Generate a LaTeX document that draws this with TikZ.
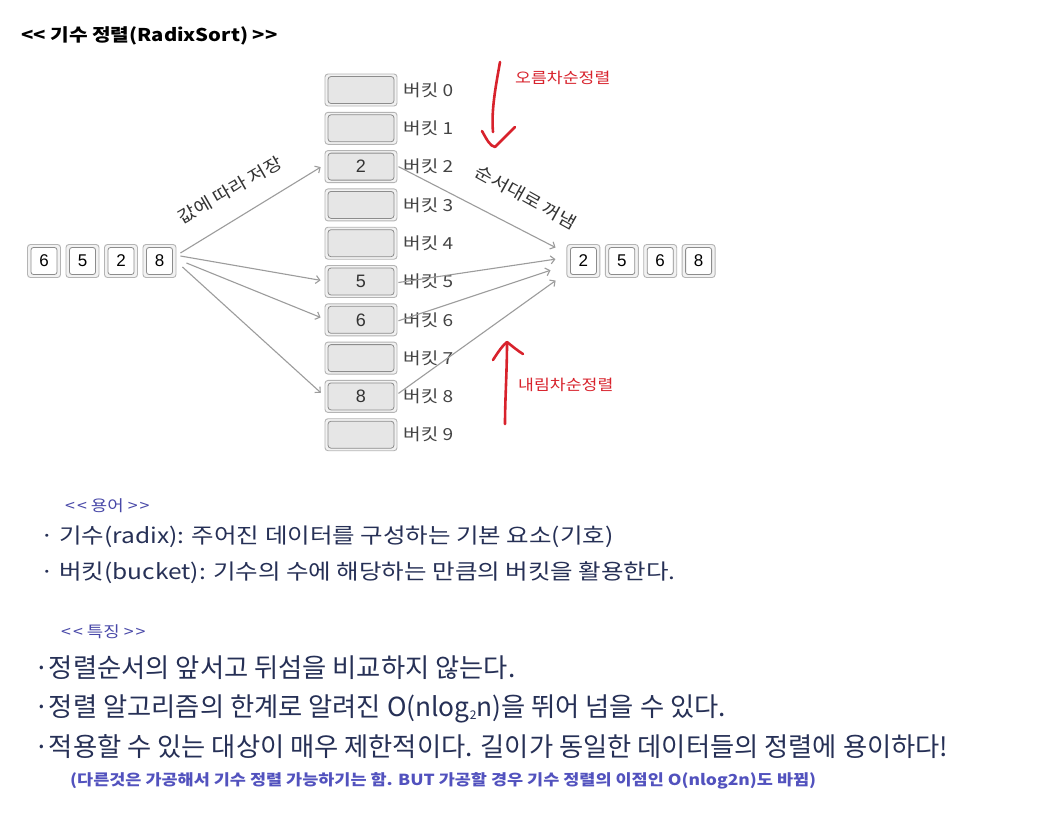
\documentclass[tikz,border=0pt]{standalone}
\usepackage{fontspec}
\setmainfont{Noto Sans CJK KR}
\newfontfamily\widef[FakeStretch=1.15]{Noto Sans CJK KR}
\newfontfamily\arialf{Liberation Sans}
\usetikzlibrary{calc,arrows.meta}
\definecolor{boxedge}{HTML}{B4B4B4}
\definecolor{boxout}{HTML}{F2F2F2}
\definecolor{inedge}{HTML}{8C8C8C}
\definecolor{bktfill}{HTML}{E6E6E6}
\definecolor{arr}{HTML}{9C9C9C}
\definecolor{redpen}{HTML}{D8222C}
\definecolor{navy}{HTML}{263056}
\definecolor{headblue}{HTML}{4848A8}
\definecolor{noteblue}{HTML}{5252BE}
\definecolor{lbl}{HTML}{444444}
\newcommand{\lt}{<\kern0pt<}
\newcommand{\gt}{>\kern0pt>}
\newcommand{\slt}{<\kern2pt<}
\newcommand{\sgt}{>\kern2pt>}
\tikzset{
  bktout/.style={draw=boxedge, fill=boxout, rounded corners=3pt, line width=0.9pt, minimum width=72pt, minimum height=32pt, inner sep=0pt},
  bktin/.style={draw=inedge, fill=bktfill, rounded corners=3pt, line width=0.8pt, minimum width=66pt, minimum height=27pt, inner sep=0pt, font=\arialf\fontsize{18}{18}\selectfont, text=black!80},
  cellout/.style={draw=boxedge, fill=boxout, rounded corners=3pt, line width=0.9pt, minimum width=33pt, minimum height=33pt, inner sep=0pt},
  cellin/.style={draw=inedge, fill=white, rounded corners=2.5pt, line width=0.8pt, minimum width=26pt, minimum height=27pt, inner sep=0pt, font=\arialf\fontsize{17}{17}\selectfont},
  bktlabel/.style={anchor=west, inner sep=0pt, text=lbl, font=\widef\fontsize{16.6}{16.6}\selectfont},
  conn/.style={draw=arr, line width=1.1pt, shorten >=1pt, -{Straight Barb[length=4pt,width=8pt]}},
  redline/.style={draw=redpen, line width=2.6pt, line cap=round, line join=round},
  redtext/.style={text=redpen, font=\widef\fontsize{15}{15}\selectfont, inner sep=0pt},
  rottext/.style={text=black!80, font=\widef\fontsize{17}{17}\selectfont, inner sep=0pt},
  head/.style={anchor=west, inner sep=0pt, text=headblue, font=\widef\fontsize{15.5}{15.5}\selectfont},
  bodyA/.style={anchor=west, inner sep=0pt, text=navy, font=\widef\fontsize{21.3}{21.3}\selectfont},
  bodyB/.style={anchor=west, inner sep=0pt, text=navy, font=\fontsize{26.3}{26.3}\selectfont},
  note/.style={anchor=west, inner sep=0pt, text=noteblue, font=\widef\bfseries\fontsize{15.2}{15.2}\selectfont},
}
\begin{document}
\begin{tikzpicture}[x=1pt,y=-1pt]
\useasboundingbox[fill=white] (0,0) rectangle (1041,839);
% title
\node[anchor=west, inner sep=0pt, font=\widef\bfseries\fontsize{17.6}{17.6}\selectfont] (title) at (21,36) {\lt{} 기수 정렬(RadixSort) \gt};
% buckets
\foreach \k in {0,...,9}{
  \node[bktout] (b\k) at (361,{90+38.3*\k}) {};
  \node[bktlabel] (bl\k) at (403,{90+38.3*\k}) {버킷 \k};
}
\node[bktin] (bi0) at (b0) {};
\node[bktin] (bi1) at (b1) {};
\node[bktin] (bi2) at (b2) {2};
\node[bktin] (bi3) at (b3) {};
\node[bktin] (bi4) at (b4) {};
\node[bktin] (bi5) at (b5) {5};
\node[bktin] (bi6) at (b6) {6};
\node[bktin] (bi7) at (b7) {};
\node[bktin] (bi8) at (b8) {8};
\node[bktin] (bi9) at (b9) {};
% input array
\foreach \v [count=\i] in {6,5,2,8}{
  \node[cellout] (a\i) at ({5.5+38.5*\i},261) {};
  \node[cellin] (ai\i) at (a\i) {\v};
}
% output array
\foreach \v [count=\i] in {2,5,6,8}{
  \node[cellout] (r\i) at ({545+38.4*\i},261) {};
  \node[cellin] (ri\i) at (r\i) {\v};
}
% store arrows
\draw[conn] ($(a4.east)+(4,-8)$) -- ($(b2.west)+(-3,0)$);
\draw[conn] ($(a4.east)+(4,-5)$) -- ($(b5.west)+(-3,-1)$);
\draw[conn] ($(a4.east)+(10,2)$) -- ($(b6.west)+(-3,-2)$);
\draw[conn] ($(a4.east)+(6,6)$) -- ($(b8.west)+(-3,-3)$);
% take-out arrows
\draw[conn] ($(b2.east)+(1,0)$) -- ($(r1.west)+(-10,-13)$);
\draw[conn] ($(b5.east)+(1,1)$) -- ($(r1.west)+(-10,-2)$);
\draw[conn] ($(b6.east)+(1,1)$) -- ($(r1.west)+(-15,9)$);
\draw[conn] ($(b8.east)+(1,-3)$) -- ($(r1.west)+(-10,19)$);
% rotated labels
\node[rottext, rotate=30] (store) at (230,190) {값에 따라 저장};
\node[rottext, rotate=-29] (takeout) at (526,197) {순서대로 꺼냄};
% red hand-drawn arrows
\coordinate (u0) at (500,62);
\coordinate (u1) at (493,132);
\draw[redline] (u0) .. controls (496,85) and (491,110) .. (u1);
\draw[redline] (482,131) .. controls (487,140) and (490,146) .. (495,147) .. controls (502,140) and (509,133) .. (515,127);
\node[redtext, anchor=west] (asc) at (515,78) {오름차순정렬};
\coordinate (d0) at (505,424);
\coordinate (d1) at (507,343);
\draw[redline] (d0) .. controls (505,400) and (507,370) .. (d1);
\draw[redline] (493,360) .. controls (498,352) and (503,345) .. (507,342) .. controls (512,346) and (518,351) .. (523,354);
\node[redtext, anchor=west] (desc) at (518,385) {내림차순정렬};
% terms
\node[head] (h1) at (65,506) {\slt{} 용어 \sgt};
\node[bodyA] (t1) at (40,537) {· 기수(radix): 주어진 데이터를 구성하는 기본 요소(기호)};
\node[bodyA] (t2) at (40,573) {· 버킷(bucket): 기수의 수에 해당하는 만큼의 버킷을 활용한다.};
% features
\node[head] (h2) at (61,632) {\slt{} 특징 \sgt};
\node[bodyB] (f1) at (34,668) {·정렬순서의 앞서고 뒤섬을 비교하지 않는다.};
\node[bodyB] (f2) at (34,709) {·정렬 알고리즘의 한계로 알려진 O(nlog\raisebox{-3pt}{\fontsize{12}{12}\selectfont 2}n)을 뛰어 넘을 수 있다.};
\node[bodyB] (f3) at (34,747) {·적용할 수 있는 대상이 매우 제한적이다. 길이가 동일한 데이터들의 정렬에 용이하다!};
\node[note] (n1) at (70,781) {(다른것은 가공해서 기수 정렬 가능하기는 함. BUT 가공할 경우 기수 정렬의 이점인 O(nlog2n)도 바뀜)};
\end{tikzpicture}
\end{document}
